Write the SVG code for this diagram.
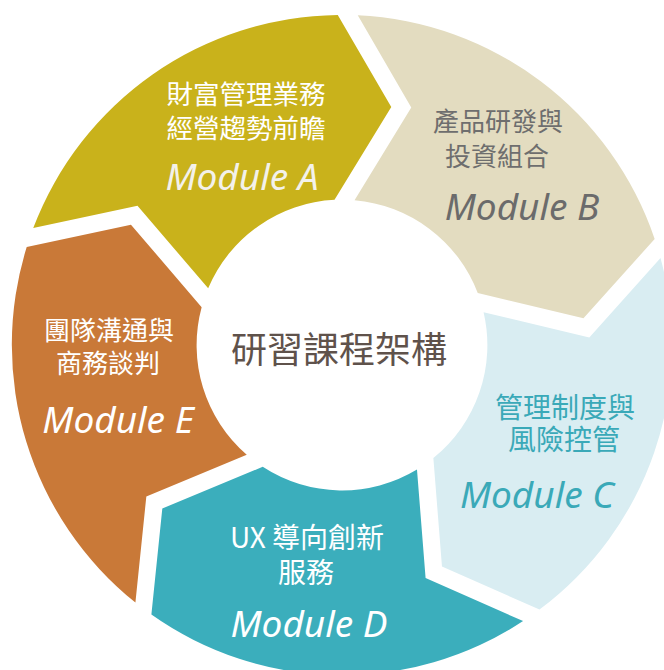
<svg xmlns="http://www.w3.org/2000/svg" width="664" height="670" viewBox="0 0 664 670">
<style>
.cjk{font-family:"Noto Sans CJK TC","Noto Sans",sans-serif;text-anchor:middle}
.mod{font-family:"Noto Sans","Open Sans",sans-serif;font-style:italic;text-anchor:middle;font-size:37px}
.w{fill:#ffffff}
</style>
<rect width="664" height="670" fill="#ffffff"/>
<g id="connectors"></g>
<g id="moduleA">
<path d="M33.24,228.10 A330,330 0 0 1 337.76,14.88 L391.27,107.10 L334.53,199.85 A145,145 0 0 0 208.16,288.33 L137.49,205.71 Z" fill="#C9B21B"/>
<text class="cjk w" x="246" y="104" font-size="26.5">財富管理業務</text>
<text class="cjk w" x="246" y="138" font-size="26.5">經營趨勢前瞻</text>
<text class="mod" x="242" y="190" fill="#F3F1EA">Module A</text>
</g>
<g id="moduleB">
<path d="M357.76,15.22 A330,330 0 0 1 654.66,238.96 L583.48,318.35 L477.74,293.05 A145,145 0 0 0 354.53,200.20 L411.27,107.45 Z" fill="#E3DCC0"/>
<text class="cjk" x="498" y="131" font-size="26" fill="#6E6E6E">產品研發與</text>
<text class="cjk" x="497" y="166" font-size="26" fill="#6E6E6E">投資組合</text>
<text class="mod" x="522" y="220" fill="#6B6B6B">Module B</text>
</g>
<g id="moduleC">
<path d="M660.50,258.08 A330,330 0 0 1 539.47,609.58 L441.97,566.42 L433.36,458.04 A145,145 0 0 0 483.58,312.17 L589.32,337.47 Z" fill="#D9EDF2"/>
<text class="cjk" x="565" y="418" font-size="28" fill="#3AA9B8">管理制度與</text>
<text class="cjk" x="564" y="450" font-size="28" fill="#3AA9B8">風險控管</text>
<text class="mod" x="537" y="508" fill="#3AA9B8">Module C</text>
</g>
<g id="moduleD">
<path d="M523.09,621.06 A330,330 0 0 1 151.39,614.57 L162.31,508.50 L262.73,466.82 A145,145 0 0 0 416.98,469.52 L425.59,577.90 Z" fill="#3BAEBC"/>
<text class="cjk w" x="307" y="548" font-size="28">UX 導向創新</text>
<text class="cjk w" x="306" y="583" font-size="28">服務</text>
<text class="mod w" x="309" y="637">Module D</text>
</g>
<g id="moduleE">
<path d="M135.41,602.53 A330,330 0 0 1 26.72,247.02 L130.97,224.63 L201.64,307.25 A145,145 0 0 0 246.75,454.78 L146.33,496.46 Z" fill="#C97938"/>
<text class="cjk w" x="109" y="340" font-size="26">團隊溝通與</text>
<text class="cjk w" x="108" y="373" font-size="26">商務談判</text>
<text class="mod w" x="118" y="433">Module E</text>
</g>
<g id="center">
<text class="cjk" x="339" y="363" font-size="36" fill="#5F524B">研習課程架構</text>
</g>
</svg>
